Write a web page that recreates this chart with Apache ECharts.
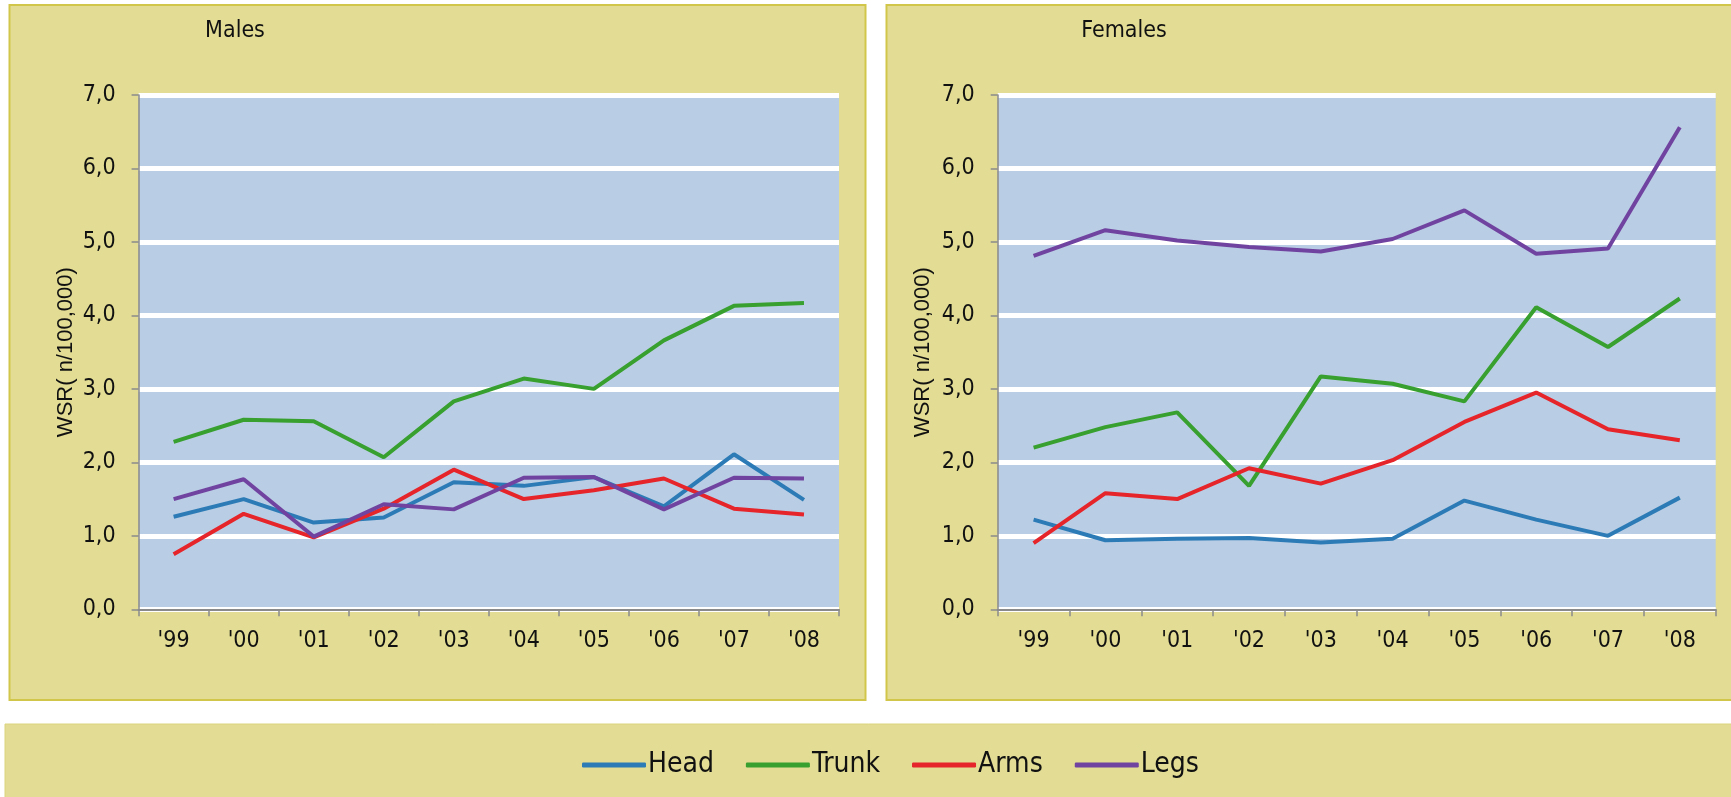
<!DOCTYPE html>
<html>
<head>
<meta charset="utf-8">
<title>WSR by body part</title>
<script src="https://cdn.jsdelivr.net/npm/echarts@6/dist/echarts.min.js"></script>
<style>
  html, body { margin: 0; padding: 0; background: #fff; }
  #main { width: 1731px; height: 797px; }
</style>
</head>
<body>
<div id="main"></div>
<script>
// categories (years) and series values
var years = ["'99", "'00", "'01", "'02", "'03", "'04", "'05", "'06", "'07", "'08"];
var yTicks = [0, 1, 2, 3, 4, 5, 6, 7];

var maleHead  = [1.26, 1.50, 1.18, 1.25, 1.73, 1.68, 1.80, 1.40, 2.11, 1.49];
var maleTrunk = [2.28, 2.58, 2.56, 2.07, 2.83, 3.14, 3.00, 3.66, 4.13, 4.17];
var maleArms  = [0.75, 1.30, 0.98, 1.37, 1.90, 1.50, 1.62, 1.78, 1.37, 1.29];
var maleLegs  = [1.50, 1.77, 0.99, 1.43, 1.36, 1.79, 1.80, 1.36, 1.79, 1.78];

var femHead  = [1.22, 0.94, 0.96, 0.97, 0.91, 0.96, 1.48, 1.22, 1.00, 1.52];
var femTrunk = [2.20, 2.48, 2.68, 1.68, 3.17, 3.07, 2.83, 4.11, 3.57, 4.23];
var femArms  = [0.90, 1.58, 1.50, 1.92, 1.71, 2.03, 2.55, 2.95, 2.45, 2.30];
var femLegs  = [4.81, 5.16, 5.02, 4.93, 4.87, 5.04, 5.43, 4.84, 4.91, 6.56];

var seriesNames = ['Head', 'Trunk', 'Arms', 'Legs'];
var seriesColors = ['#2C7BB6', '#38A02E', '#E5252A', '#7143A0'];

// the original uses a narrow face; take the closest one installed and scale sizes to match
function hasFont(f) {
    var ctx = document.createElement('canvas').getContext('2d');
    var probe = 'Head Trunk 7,0 WSR';
    ctx.font = '40px monospace';
    var base = ctx.measureText(probe).width;
    ctx.font = "40px '" + f + "', monospace";
    return ctx.measureText(probe).width !== base;
}
var fontChoices = [
    { name: 'Liberation Sans Narrow', digits: 1, text: 1 },
    { name: 'Arial Narrow', digits: 1, text: 1 },
    { name: 'DejaVu Sans Condensed', digits: 0.88, text: 0.92 }
];
var pick = null;
fontChoices.forEach(function (c) { if (!pick && hasFont(c.name)) pick = c; });
if (!pick) pick = { name: 'Liberation Sans', digits: 0.86, text: 0.86 };
var narrowFamily = "'" + pick.name + "', sans-serif";
var tickSize = Math.round(26 * pick.digits);
var titleSize = Math.round(25 * pick.text);
var legendSize = Math.round(30 * pick.text);

var panelFill = '#E2DC94';
var panelBorder = '#D2C64A';
var axisGray = '#8A8A8A';

var myChart = echarts.init(document.getElementById('main'));

function makeX(idx) {
    return {
        type: 'category',
        gridIndex: idx,
        data: years,
        boundaryGap: true,
        z: 5,
        axisLine: { show: true, lineStyle: { color: axisGray, width: 2 } },
        axisTick: { show: true, length: 7, lineStyle: { color: axisGray, width: 1.5 } },
        axisLabel: { color: '#111', fontFamily: narrowFamily, fontSize: tickSize, margin: 20 }
    };
}

function makeY(idx, gap) {
    return {
        type: 'value',
        gridIndex: idx,
        min: yTicks[0],
        max: yTicks[yTicks.length - 1],
        interval: 1,
        name: 'WSR( n/100,000)',
        nameLocation: 'middle',
        nameGap: gap,
        nameTextStyle: { color: '#111', fontFamily: "'Liberation Sans', Arial, sans-serif", fontSize: 22 },
        axisLine: { show: true, lineStyle: { color: axisGray, width: 1.5 } },
        axisTick: { show: true, length: 7, lineStyle: { color: axisGray, width: 1.5 } },
        axisLabel: {
            color: '#111', fontFamily: narrowFamily, fontSize: tickSize, margin: 23,
            formatter: function (v) { return v.toFixed(1).replace('.', ','); }
        },
        splitLine: { show: true, lineStyle: { color: '#FFFFFF', width: 5 } }
    };
}

var maleData = [maleHead, maleTrunk, maleArms, maleLegs];
var femData = [femHead, femTrunk, femArms, femLegs];
var series = [];
seriesNames.forEach(function (name, i) {
    series.push({
        name: name, type: 'line', xAxisIndex: 0, yAxisIndex: 0,
        data: maleData[i], symbol: 'none',
        lineStyle: { color: seriesColors[i], width: 4 }, itemStyle: { color: seriesColors[i] }
    });
    series.push({
        name: name, type: 'line', xAxisIndex: 1, yAxisIndex: 1,
        data: femData[i], symbol: 'none',
        lineStyle: { color: seriesColors[i], width: 4 }, itemStyle: { color: seriesColors[i] }
    });
});

myChart.setOption({
    backgroundColor: '#FFFFFF',
    animation: false,
    graphic: [
        { type: 'rect', z: -10, shape: { x: 9.5, y: 5, width: 856, height: 695 },
          style: { fill: panelFill, stroke: panelBorder, lineWidth: 2 } },
        { type: 'rect', z: -10, shape: { x: 886.5, y: 5, width: 860, height: 695 },
          style: { fill: panelFill, stroke: panelBorder, lineWidth: 2 } },
        { type: 'rect', z: -10, shape: { x: 5, y: 724, width: 1740, height: 80 },
          style: { fill: panelFill, stroke: '#DCD47F', lineWidth: 1 } }
    ],
    title: [
        { text: 'Males', left: 230, top: 26, textAlign: 'center', textVerticalAlign: 'middle',
          textStyle: { fontFamily: narrowFamily, fontSize: titleSize, fontWeight: 'normal', color: '#111' } },
        { text: 'Females', left: 1119, top: 26, textAlign: 'center', textVerticalAlign: 'middle',
          textStyle: { fontFamily: narrowFamily, fontSize: titleSize, fontWeight: 'normal', color: '#111' } }
    ],
    legend: {
        data: seriesNames,
        left: 577,
        top: 746,
        itemWidth: 64,
        itemHeight: 5,
        itemGap: 32,
        icon: 'roundRect',
        textStyle: { fontFamily: narrowFamily, fontSize: legendSize, color: '#111', padding: [0, 0, 0, -3] }
    },
    grid: [
        { left: 138.6, top: 95, width: 700.4, height: 514.3, show: true, backgroundColor: '#B9CDE4', borderWidth: 0 },
        { left: 997.7, top: 95, width: 718, height: 514.3, show: true, backgroundColor: '#B9CDE4', borderWidth: 0 }
    ],
    xAxis: [makeX(0), makeX(1)],
    yAxis: [makeY(0, 62), makeY(1, 64)],
    series: series
});
</script>
</body>
</html>
